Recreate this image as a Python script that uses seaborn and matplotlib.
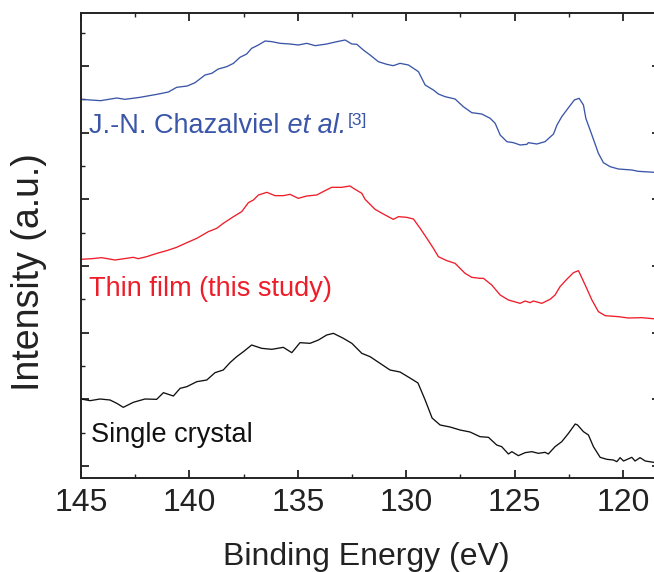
import matplotlib
matplotlib.use("Agg")
import matplotlib.pyplot as plt
from matplotlib.ticker import MultipleLocator, NullFormatter
import numpy as np
import pandas as pd
import seaborn as sns

# ---------------- data ----------------
blue_e = [145.0, 144.1, 143.35, 142.97, 142.28, 141.5, 140.97, 140.59, 140.1, 139.74,
          139.28, 138.97, 138.67, 138.28, 137.97, 137.67, 137.36, 137.13, 136.82, 136.51,
          136.2, 135.82, 135.36, 134.98, 134.59, 134.2, 133.67, 133.2, 132.82, 132.51,
          132.28, 131.98, 131.67, 131.29, 130.9, 130.6, 130.29, 129.9, 129.44, 129.13,
          128.75, 128.52, 128.21, 127.75, 127.37, 126.98, 126.52, 126.13, 125.9, 125.67,
          125.36, 125.06, 124.75, 124.44, 124.37, 123.98, 123.6, 123.21, 123.05, 122.83,
          122.52, 122.25, 122.03, 121.83, 121.72, 121.44, 121.14, 120.91, 120.6, 120.22,
          119.6, 119.3, 118.3]
blue_i = [5.50, 5.48, 5.52, 5.50, 5.53, 5.575, 5.61, 5.68, 5.70, 5.75,
          5.865, 5.89, 5.955, 5.99, 6.04, 6.13, 6.18, 6.265, 6.315, 6.375,
          6.365, 6.34, 6.33, 6.315, 6.34, 6.305, 6.33, 6.365, 6.39, 6.33,
          6.325, 6.24, 6.165, 6.065, 6.025, 6.005, 6.04, 6.015, 5.915, 5.715,
          5.64, 5.58, 5.54, 5.505, 5.39, 5.30, 5.28, 5.215, 5.14, 4.965,
          4.865, 4.85, 4.815, 4.825, 4.85, 4.83, 4.865, 4.98, 5.115, 5.24,
          5.375, 5.49, 5.515, 5.415, 5.215, 4.965, 4.69, 4.55, 4.49, 4.455,
          4.44, 4.42, 4.40]

red_e = [145.0, 144.5, 144.05, 143.43, 142.9, 142.59, 142.36, 141.97, 141.5, 141.05,
         140.59, 140.12, 139.66, 139.13, 138.74, 138.44, 137.97, 137.59, 137.28, 137.05,
         136.82, 136.43, 136.05, 135.67, 135.36, 134.98, 134.59, 134.13, 133.75, 133.44,
         132.98, 132.6, 132.36, 132.05, 131.9, 131.44, 131.06, 130.6, 130.36, 129.98,
         129.67, 129.36, 129.05, 128.75, 128.52, 128.13, 127.75, 127.29, 126.98, 126.6,
         126.44, 126.06, 125.67, 125.29, 124.75, 124.52, 124.29, 124.14, 123.75, 123.37,
         123.14, 122.91, 122.6, 122.29, 122.06, 121.75, 121.44, 121.14, 120.83, 120.22,
         119.76, 119.14, 118.3]
red_i = [3.10, 3.11, 3.125, 3.09, 3.115, 3.13, 3.11, 3.14, 3.19, 3.23,
         3.28, 3.35, 3.415, 3.515, 3.565, 3.64, 3.74, 3.815, 3.95, 3.99,
         4.065, 4.105, 4.055, 4.055, 4.075, 4.015, 4.05, 4.065, 4.13, 4.18,
         4.18, 4.20, 4.15, 4.09, 4.00, 3.85, 3.78, 3.70, 3.74, 3.73,
         3.705, 3.565, 3.415, 3.265, 3.14, 3.08, 3.04, 2.89, 2.83, 2.815,
         2.815, 2.715, 2.565, 2.49, 2.44, 2.475, 2.45, 2.475, 2.44, 2.50,
         2.565, 2.69, 2.80, 2.90, 2.93, 2.715, 2.49, 2.315, 2.255, 2.24,
         2.22, 2.225, 2.20]

black_e = [145.0, 144.58, 144.12, 143.66, 143.35, 143.05, 142.59, 142.05, 141.51, 141.2,
           140.74, 140.43, 140.12, 139.66, 139.2, 138.82, 138.44, 138.13, 137.82, 137.51,
           137.13, 136.67, 136.2, 135.67, 135.28, 134.9, 134.44, 134.05, 133.67, 133.36,
           132.9, 132.51, 132.05, 131.67, 131.21, 130.75, 130.29, 129.83, 129.46, 129.13,
           128.81, 128.44, 127.98, 127.52, 127.06, 126.6, 126.21, 125.83, 125.6, 125.29,
           125.13, 124.83, 124.52, 124.21, 123.91, 123.6, 123.45, 123.14, 122.83, 122.52,
           122.21, 122.1, 121.83, 121.6, 121.37, 121.06, 120.75, 120.45, 120.29, 120.14,
           119.98, 119.6, 119.45, 119.22, 118.98, 118.3]
black_i = [1.005, 0.98, 1.005, 0.99, 0.94, 0.88, 0.955, 1.005, 1.00, 1.10,
           1.05, 1.165, 1.19, 1.265, 1.29, 1.40, 1.44, 1.55, 1.64, 1.715,
           1.815, 1.765, 1.75, 1.78, 1.70, 1.85, 1.84, 1.89, 1.965, 1.99,
           1.915, 1.84, 1.69, 1.64, 1.54, 1.44, 1.41, 1.32, 1.245, 0.99,
           0.72, 0.615, 0.585, 0.54, 0.51, 0.44, 0.43, 0.315, 0.29, 0.18,
           0.215, 0.155, 0.20, 0.215, 0.19, 0.205, 0.18, 0.29, 0.365, 0.49,
           0.63, 0.615, 0.515, 0.465, 0.29, 0.13, 0.10, 0.09, 0.065, 0.125,
           0.075, 0.13, 0.075, 0.125, 0.075, 0.04]

series_names = ["J.-N. Chazalviel", "Thin film", "Single crystal"]
x_ticks = [145, 140, 135, 130, 125, 120]
x_tick_labels = ["145", "140", "135", "130", "125", "120"]

BLUE = "#3b56a8"
RED = "#ee1d2a"
BLACK = "#111111"

# ---------------- figure ----------------
sns.set_theme(style="ticks")
plt.rcParams["font.family"] = ["Liberation Sans", "DejaVu Sans"]

W, H = 654, 572
fig = plt.figure(figsize=(W / 100, H / 100), dpi=100)
ax_l, ax_r, ax_t, ax_b = 81, 660, 13, 478
ax = fig.add_axes([ax_l / W, 1 - ax_b / H, (ax_r - ax_l) / W, (ax_b - ax_t) / H])

frames = [
    pd.DataFrame({"energy": blue_e, "intensity": blue_i, "s": series_names[0]}),
    pd.DataFrame({"energy": red_e, "intensity": red_i, "s": series_names[1]}),
    pd.DataFrame({"energy": black_e, "intensity": black_i, "s": series_names[2]}),
]
for df, col in zip(frames, [BLUE, RED, BLACK]):
    sns.lineplot(data=df, x="energy", y="intensity", ax=ax, color=col,
                 linewidth=0.95, sort=False, estimator=None, legend=False)

ax.set_xlim(145, 118.3)
ax.set_ylim(-0.18, 6.795)

ax.set_xticks(x_ticks)
ax.set_xticklabels(x_tick_labels)
ax.xaxis.set_minor_locator(MultipleLocator(2.5))
ax.yaxis.set_major_locator(MultipleLocator(1))
ax.yaxis.set_minor_locator(MultipleLocator(0.5))
ax.yaxis.set_major_formatter(NullFormatter())

ax.tick_params(axis="both", which="major", direction="in", length=6, width=1.3,
               color="#222222", top=True, right=True, labelsize=23, pad=7,
               labelcolor="#222222")
ax.tick_params(axis="both", which="minor", direction="in", length=3, width=1.0,
               color="#222222", top=True, right=True)
for sp in ax.spines.values():
    sp.set_linewidth(1.4)
    sp.set_color("#222222")

ax.set_xlabel("Binding Energy (eV)", fontsize=23, color="#222222")
ax.set_ylabel("Intensity (a.u.)", fontsize=27, color="#222222")
ax.yaxis.set_label_coords((47 - ax_l) / (ax_r - ax_l), 1 - (272 - ax_t) / (ax_b - ax_t))
ax.xaxis.set_label_coords((366 - ax_l) / (ax_r - ax_l), -(565 - ax_b) / (ax_b - ax_t))
ax.xaxis.label.set_va("baseline")

# ---------------- annotations ----------------
FS = 19.5
t1 = ax.text(144.62, 5.0, "J.-N. Chazalviel", color=BLUE, fontsize=FS, va="baseline")
t2 = ax.annotate(" et al.", xy=(1, 0), xycoords=t1, va="bottom", ha="left",
                 color=BLUE, fontsize=FS, fontstyle="italic")
ax.annotate("[3]", xy=(1.02, 0.98), xycoords=t2, va="top", ha="left",
            color=BLUE, fontsize=12.5)
ax.text(144.62, 2.55, "Thin film (this study)", color=RED, fontsize=FS, va="baseline")
ax.text(144.55, 0.365, "Single crystal", color=BLACK, fontsize=FS, va="baseline")

fig.savefig("out.png", dpi=100)
